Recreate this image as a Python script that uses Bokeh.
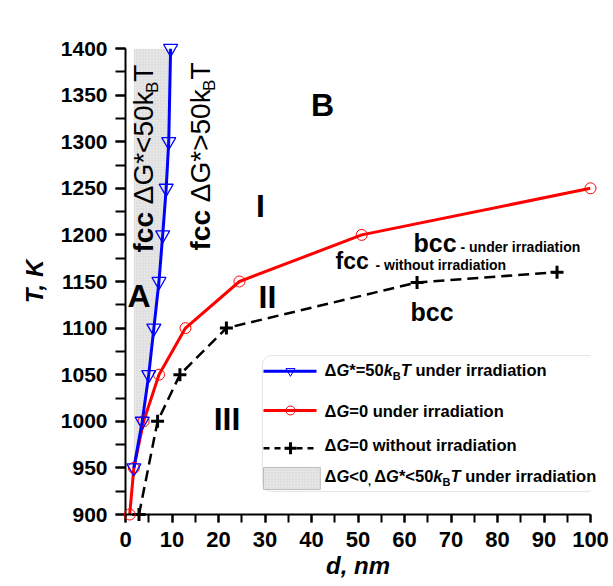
import math
from bokeh.plotting import figure
from bokeh.models import Range1d, BoxAnnotation, FixedTicker
from bokeh.core.properties import value
from bokeh.embed import file_html
from bokeh.resources import INLINE

# ---------------- data ----------------
blue_d = [1.8, 3.6, 5.0, 6.1, 7.2, 8.0, 8.75, 9.3, 9.7]
blue_T = [950, 1000, 1050, 1100, 1150, 1200, 1250, 1300, 1400]
red_d = [0.9, 1.8, 3.9, 7.2, 12.9, 24.5, 50.8, 100.0]
red_T = [900, 950, 1000, 1050, 1100, 1150, 1200, 1250]
blk_d = [2.9, 6.9, 11.7, 21.7, 62.7, 92.8]
blk_T = [900, 1000, 1050, 1100, 1149, 1160]
x_ticks = list(range(0, 101, 10))
x_minor = list(range(0, 101, 5))
y_ticks = list(range(900, 1401, 50))
y_minor = list(range(900, 1401, 25))

# ---------------- layout ----------------
W, H = 610, 586
BL, BR, BT, BB = 125, 20, 48, 72
SX = (W - BL - BR) / 100.0      # px per nm
SY = (H - BT - BB) / 500.0      # px per K

SANS = "Liberation Sans"

p = figure(width=W, height=H, output_backend="svg", toolbar_location=None,
           x_range=Range1d(0, 100), y_range=Range1d(900, 1400),
           min_border_left=BL, min_border_right=BR,
           min_border_top=BT, min_border_bottom=BB)
p.outline_line_color = None
p.grid.visible = False
p.background_fill_color = "white"
p.border_fill_color = "white"

for ax in (p.xaxis[0], p.yaxis[0]):
    ax.axis_line_width = 2
    ax.major_tick_line_width = 2
    ax.minor_tick_line_width = 2
    ax.major_tick_in = 0
    ax.minor_tick_in = 0
    ax.major_label_text_font = SANS
    ax.major_label_text_font_style = "bold"
    ax.major_label_text_color = "black"
    ax.axis_label_text_font = SANS
    ax.axis_label_text_font_style = "bold italic"
    ax.axis_label_text_font_size = "24px"
    ax.axis_label_text_color = "black"

p.xaxis.ticker = FixedTicker(ticks=x_ticks, minor_ticks=x_minor)
p.xaxis.major_tick_out = 8
p.xaxis.minor_tick_out = 8
p.xaxis.major_label_text_font_size = "22px"
p.xaxis.major_label_standoff = 9
p.xaxis.axis_label = "d, nm"
p.xaxis.axis_label_standoff = 2

p.yaxis.ticker = FixedTicker(ticks=y_ticks, minor_ticks=y_minor)
p.yaxis.major_tick_out = 10
p.yaxis.minor_tick_out = 10
p.yaxis.major_label_text_font_size = "21px"
p.yaxis.major_label_standoff = 8
p.yaxis.axis_label = "T, K"
p.yaxis.axis_label_standoff = 10

# ---------------- shaded region A ----------------
p.patch(x=blue_d + [blue_d[0]], y=blue_T + [blue_T[-1]],
        fill_color="#e6e6e6", line_color=None, hatch_pattern="dot",
        hatch_color="#d2d2d2", hatch_scale=3, hatch_weight=0.5)

# ---------------- curves ----------------
p.line(blk_d, blk_T, line_color="black", line_width=2.5, line_dash="11 6")
p.line(red_d, red_T, line_color="#ff0000", line_width=3)
p.line(blue_d, blue_T, line_color="#0000ff", line_width=3)

p.scatter(blk_d, blk_T, marker="cross", size=13, line_color="black",
          line_width=3, level="overlay")
p.scatter(red_d, red_T, marker="circle", size=11, fill_color=None,
          line_color="#ff0000", line_width=1, level="overlay")
p.scatter(blue_d, blue_T, marker="inverted_triangle", size=14, fill_color=None,
          line_color="#0000ff", line_width=1.3, level="overlay")

# ---------------- text helpers (Arial/Liberation Sans advance widths) ----------------
WR = {' ': 278, 'f': 278, 'c': 500, 'Δ': 612, 'G': 778, '*': 389, '<': 584,
      '>': 584, '5': 556, '0': 556, 'k': 500, 'B': 667, 'T': 611}
WB = {' ': 278, 'f': 333, 'c': 556, 'b': 611, 'Δ': 722, 'G': 778, '*': 389,
      '=': 584, '<': 584, '>': 584, 'k': 556, 'B': 722, 'T': 611, 'u': 611,
      'n': 611, 'd': 611, 'e': 556, 'r': 389, 'i': 278, 'a': 556, 't': 333,
      'o': 611, 'w': 778, 'h': 611, '-': 333, ',': 278}
MID = 0.35   # em distance from baseline up to the middle of the text box


def tw(s, size, style):
    tab = WB if "bold" in style else WR
    return sum(tab.get(ch, 556) for ch in s) / 1000.0 * size


def put(x, y, s, size, style="bold", align="left", angle=0.0):
    # (x, y) is the baseline point; the glyph is drawn centred on its middle
    if angle == 0.0:
        y = y + MID * size / SY
    else:
        x = x - MID * size / SX
    p.text(x=[x], y=[y], text=[s], text_font=value(SANS),
           text_font_size=f"{size}px", text_font_style=style,
           text_align=align, text_baseline="middle", angle=angle,
           text_color="black", level="overlay")


def hruns(x0, y0, runs):
    x = x0
    for s, size, style, dy in runs:
        core = s.lstrip(" ")
        x += tw(s[:len(s) - len(core)], size, style) / SX
        put(x, y0 - dy / SY, core, size, style)
        x += tw(core, size, style) / SX


def vruns(x0, y0, runs):
    y = y0
    for s, size, style, dx in runs:
        core = s.lstrip(" ")
        y += tw(s[:len(s) - len(core)], size, style) / SY
        put(x0 + dx / SX, y, core, size, style, angle=math.pi / 2)
        y += tw(core, size, style) / SY

# ---------------- region labels ----------------
RL = 32
put(42.37, 1327.0, "B", RL, "bold", "center")
put(29.03, 1218.7, "I", RL, "bold", "center")
put(30.54, 1121.0, "II", RL, "bold", "center")
put(21.83, 990.1, "III", RL, "bold", "center")
put(2.90, 1122.1, "A", RL, "bold", "center")

VS, VB = 28, 17
vruns(6.02, 1181.1, [("fcc", VS, "bold", 0), (" ΔG*<50k", VS, "normal", 0),
                     ("B", VB, "normal", 5), ("T", VS, "normal", 0)])
vruns(18.28, 1183.3, [("fcc", VS, "bold", 0), (" ΔG*>50k", VS, "normal", 0),
                      ("B", VB, "normal", 5), ("T", VS, "normal", 0)])

put(45.16, 1162.9, "fcc", 23, "bold")
put(53.76, 1162.9, "- without irradiation", 14, "bold")
put(61.94, 1182.2, "bcc", 25, "bold")
put(72.04, 1182.2, "- under irradiation", 14, "bold")
put(61.29, 1108.2, "bcc", 25, "bold")

# ---------------- legend ----------------
p.add_layout(BoxAnnotation(left=29.46, right=101.5, top=1070.6, bottom=924.7,
                           fill_color="white", fill_alpha=1.0,
                           line_color="#a8a8a8", line_width=1,
                           border_radius=9))

lx0, lx1, lxm = 29.68, 41.08, 35.48
p.line([lx0, lx1], [1053.8, 1053.8], line_color="#0000ff", line_width=3, level="overlay")
p.scatter([lxm], [1053.8], marker="inverted_triangle", size=9, fill_color=None,
          line_color="#0000ff", line_width=1, level="overlay")
p.line([lx0, lx1], [1011.6, 1011.6], line_color="#ff0000", line_width=3, level="overlay")
p.scatter([lxm], [1011.6], marker="circle", size=9, fill_color=None,
          line_color="#ff0000", line_width=1, level="overlay")
p.line([lx0, lx1], [971.1, 971.1], line_color="black", line_width=2.5,
       line_dash="6 5", level="overlay")
p.scatter([lxm], [971.1], marker="cross", size=12, line_color="black",
          line_width=3, level="overlay")
p.quad(left=[29.68], right=[41.9], bottom=[926.8], top=[950.4],
       fill_color="#e6e6e6", line_color="#bdbdbd", line_width=1,
       hatch_pattern="dot", hatch_color="#d2d2d2", hatch_scale=3,
       hatch_weight=0.5, level="overlay")

LS, LB = 16.5, 11
tx = 42.8
hruns(tx, 1049.1, [("Δ", LS, "bold", 0), ("G", LS, "bold italic", 0),
                   ("*=50", LS, "bold", 0), ("k", LS, "bold italic", 0),
                   ("B", LB, "bold", 4), ("T", LS, "bold italic", 0),
                   (" under irradiation", LS, "bold", 0)])
hruns(tx, 1005.2, [("Δ", LS, "bold", 0), ("G", LS, "bold italic", 0),
                   ("=0 under irradiation", LS, "bold", 0)])
hruns(tx, 968.7, [("Δ", LS, "bold", 0), ("G", LS, "bold italic", 0),
                  ("=0 without irradiation", LS, "bold", 0)])
hruns(tx, 934.7, [("Δ", LS, "bold", 0), ("G", LS, "bold italic", 0),
                  ("<0", LS, "bold", 0), (", ", LB, "bold", 3),
                  ("Δ", LS, "bold", 0), ("G", LS, "bold italic", 0),
                  ("*<50", LS, "bold", 0), ("k", LS, "bold italic", 0),
                  ("B", LB, "bold", 4), ("T", LS, "bold italic", 0),
                  (" under irradiation", LS, "bold", 0)])

open("out.html", "w").write(file_html(p, INLINE))
